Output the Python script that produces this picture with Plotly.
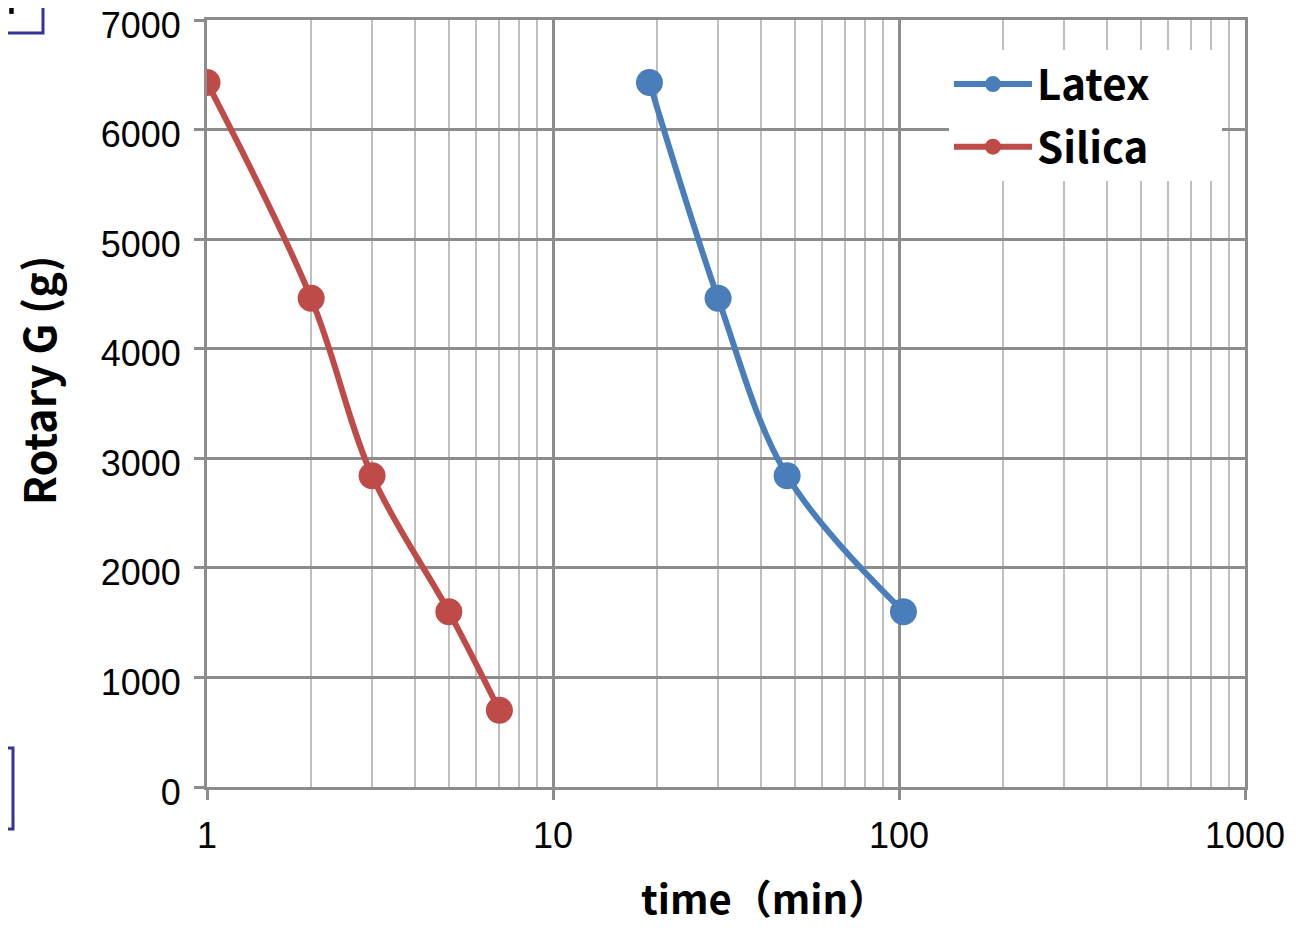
import plotly.graph_objects as go

# Data
latex_time = [19, 30, 47.5, 103]
latex_g = [6430, 4460, 2840, 1600]
silica_time = [1, 2, 3, 5, 7]
silica_g = [6430, 4460, 2840, 1600, 700]

x_tickvals = [1, 10, 100, 1000]
x_ticktext = ["1", "10", "100", "1000"]
y_tickvals = [0, 1000, 2000, 3000, 4000, 5000, 6000, 7000]

BLUE = "#4A7EBB"
RED = "#BE4B48"
MAJOR = "#8C8C8C"
MINOR = "#BFBFBF"
NAVY = "#333399"
TITLE_FONT = "Noto Sans CJK JP, Noto Sans, sans-serif"
TICK_FONT = "Liberation Sans, Arial, sans-serif"
PAD = "\u00a0" * 7

fig = go.Figure()
fig.add_trace(go.Scatter(
    x=latex_time, y=latex_g, name="Latex" + PAD, mode="lines+markers",
    legendgroup="latex",
    line=dict(color=BLUE, width=6, shape="spline"),
    marker=dict(color=BLUE, size=27),
))
fig.add_trace(go.Scatter(
    x=silica_time, y=silica_g, name="Silica" + PAD, mode="lines+markers",
    legendgroup="silica",
    line=dict(color=RED, width=6, shape="spline"),
    marker=dict(color=RED, size=27),
))

fig.update_layout(
    width=1280, height=914,
    margin=dict(l=199, r=43, t=12, b=135),
    paper_bgcolor="white", plot_bgcolor="white",
    showlegend=True,
    legend=dict(
        x=0.7148, y=0.9605, xanchor="left", yanchor="top",
        bgcolor="white", borderwidth=0,
        font=dict(family=TITLE_FONT, size=42, color="black", weight="bold"),
        itemwidth=78, tracegroupgap=5,
    ),
    xaxis=dict(
        type="log", range=[0, 3], automargin=False,
        tickvals=x_tickvals, ticktext=x_ticktext,
        showgrid=True, gridcolor=MAJOR, gridwidth=3,
        showline=True, linecolor=MAJOR, linewidth=3, mirror=True,
        ticks="outside", ticklen=10, tickwidth=3, tickcolor=MAJOR,
        tickfont=dict(family=TICK_FONT, size=36, color="black"),
        ticklabelstandoff=5, ticklabeloverflow="allow",
        minor=dict(showgrid=True, gridcolor=MINOR, gridwidth=2, dtick="D1", ticks=""),
        zeroline=False,
    ),
    yaxis=dict(
        range=[0, 7000], tickvals=y_tickvals, automargin=False,
        showgrid=True, gridcolor=MAJOR, gridwidth=3,
        showline=True, linecolor=MAJOR, linewidth=3, mirror=True,
        ticks="outside", ticklen=10, tickwidth=3, tickcolor=MAJOR,
        tickfont=dict(family=TICK_FONT, size=36, color="black"),
        ticklabelstandoff=6, ticklabeloverflow="allow", ticklabelshift=5,
        zeroline=False,
    ),
    annotations=[
        dict(text="time（min）", xref="paper", yref="paper", x=0.5375, y=-0.144,
             xanchor="center", yanchor="middle", showarrow=False,
             font=dict(family=TITLE_FONT, size=40, color="black", weight="bold")),
        dict(text="Rotary G (g)", xref="paper", yref="paper", x=-0.1635, y=0.5306,
             xanchor="center", yanchor="middle", showarrow=False, textangle=-90,
             font=dict(family=TITLE_FONT, size=43, color="black", weight="bold")),
    ],
    shapes=[
        dict(type="rect", xref="paper", yref="paper", x0=-0.215, x1=-0.158, y0=0.983, y1=1.04,
             line=dict(color=NAVY, width=3), fillcolor="rgba(0,0,0,0)"),
        dict(type="rect", xref="paper", yref="paper", x0=-0.215, x1=-0.1869, y0=-0.0548, y1=0.0508,
             line=dict(color=NAVY, width=3), fillcolor="rgba(0,0,0,0)"),
        dict(type="rect", xref="paper", yref="paper", x0=-0.1905, x1=-0.1862, y0=1.008, y1=1.04,
             line=dict(width=0), fillcolor="black"),
    ],
)

fig.write_html("out.html")
